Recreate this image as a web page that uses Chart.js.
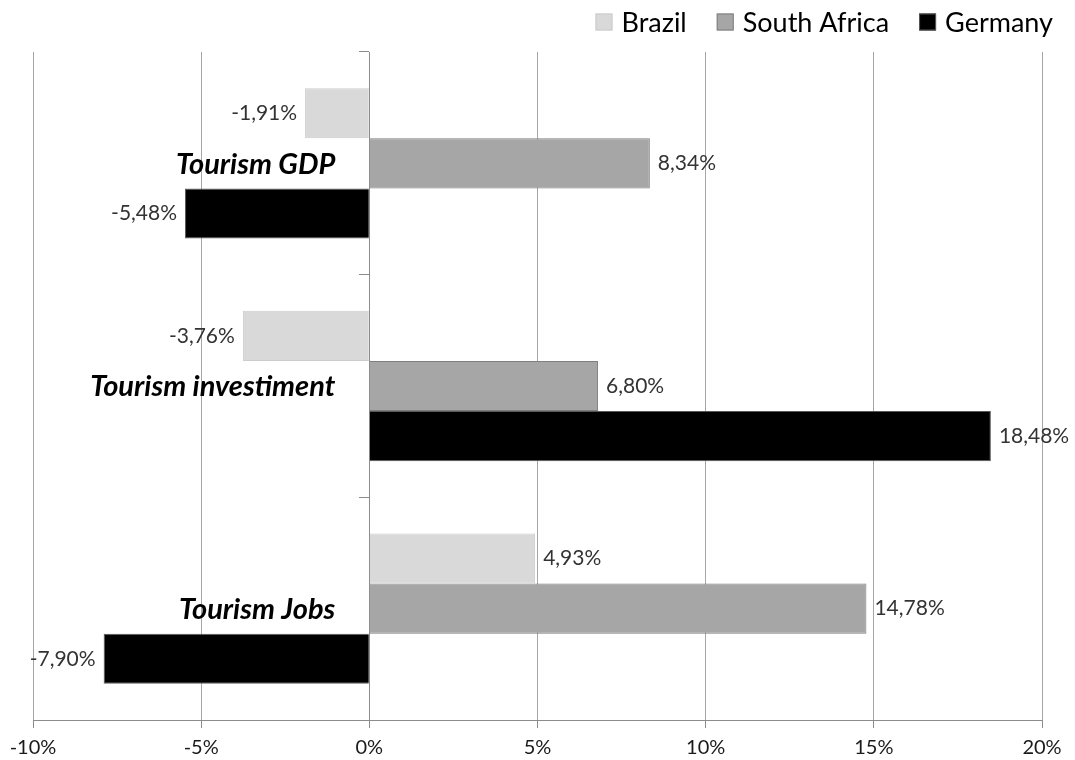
<!DOCTYPE html>
<html>
<head>
<meta charset="utf-8">
<script src="https://cdn.jsdelivr.net/npm/chart.js@4.4.0/dist/chart.umd.min.js"></script>
<style>
    html, body { margin: 0; padding: 0; background: #fff; }
    #wrap { width: 1075px; height: 760px; }
</style>
</head>
<body>
<div id="wrap"><canvas id="tourismChart"></canvas></div>
<script>
const categories = ['Tourism GDP', 'Tourism investiment', 'Tourism Jobs'];
const brazil = [-1.91, -3.76, 4.93];
const southAfrica = [8.34, 6.80, 14.78];
const germany = [-5.48, 18.48, -7.90];
const xTicks = [-10, -5, 0, 5, 10, 15, 20];

const FONT = 'Lato, "Open Sans", sans-serif';
const AXIS_GRAY = '#8c8c8c';

function pct(v){
    return v.toFixed(2).replace('.', ',') + '%';
}

// value labels at the end of each bar
const barLabels = {
    id: 'barLabels',
    afterDatasetsDraw(chart){
        const ctx = chart.ctx;
        ctx.save();
        ctx.font = '21px ' + FONT;
        ctx.fillStyle = '#333';
        ctx.textBaseline = 'middle';
        chart.data.datasets.forEach(function(ds, di){
            const meta = chart.getDatasetMeta(di);
            meta.data.forEach(function(bar, i){
                const v = ds.data[i];
                if (v >= 0) {
                    ctx.textAlign = 'left';
                    ctx.fillText(pct(v), bar.x + 8, bar.y);
                } else {
                    ctx.textAlign = 'right';
                    ctx.fillText(pct(v), bar.x - 8, bar.y);
                }
            });
        });
        ctx.restore();
    }
};

// category names beside the zero line
const categoryNames = {
    id: 'categoryNames',
    afterDatasetsDraw(chart){
        const ctx = chart.ctx;
        const xs = chart.scales.x, ys = chart.scales.y;
        ctx.save();
        ctx.font = 'italic bold 29px ' + FONT;
        ctx.fillStyle = '#000';
        ctx.textAlign = 'right';
        ctx.textBaseline = 'middle';
        chart.data.labels.forEach(function(lab, i){
            ctx.fillText(lab, xs.getPixelForValue(0) - 34, ys.getPixelForValue(i) + 1);
        });
        ctx.restore();
    }
};

// legend, right aligned at the top
const topLegend = {
    id: 'topLegend',
    afterDraw(chart){
        const ctx = chart.ctx;
        const box = 17, gap = 9, spacing = 30;
        let x = 1053;
        const y = 22;
        ctx.save();
        ctx.font = '27px ' + FONT;
        ctx.textBaseline = 'middle';
        ctx.textAlign = 'left';
        const items = chart.data.datasets.slice().reverse();
        items.forEach(function(ds){
            const w = ctx.measureText(ds.label).width;
            x -= w;
            ctx.fillStyle = '#000';
            ctx.fillText(ds.label, x, y + 1);
            x -= gap + box;
            ctx.fillStyle = ds.backgroundColor;
            ctx.fillRect(x, y - box / 2, box, box);
            ctx.strokeStyle = ds.borderColor;
            ctx.lineWidth = 1;
            ctx.strokeRect(x + 0.5, y - box / 2 + 0.5, box - 1, box - 1);
            x -= spacing;
        });
        ctx.restore();
    }
};

new Chart(document.getElementById('tourismChart'), {
    type: 'bar',
    data: {
        labels: categories,
        datasets: [
            { label: 'Brazil', data: brazil, backgroundColor: '#d9d9d9', borderColor: '#cccccc', borderWidth: 1 },
            { label: 'South Africa', data: southAfrica, backgroundColor: '#a6a6a6', borderColor: '#7f7f7f', borderWidth: 1 },
            { label: 'Germany', data: germany, backgroundColor: '#000000', borderColor: '#595959', borderWidth: 1 }
        ]
    },
    plugins: [barLabels, categoryNames, topLegend],
    options: {
        indexAxis: 'y',
        responsive: true,
        maintainAspectRatio: false,
        animation: false,
        categoryPercentage: 0.675,
        barPercentage: 1,
        layout: {
            padding: { left: 33, right: 33, top: 52, bottom: -8 }
        },
        plugins: {
            tooltip: { enabled: false },
            legend: { display: false }
        },
        scales: {
            x: {
                min: -10,
                max: 20,
                afterBuildTicks(axis){
                    axis.ticks = xTicks.map(v => ({ value: v }));
                },
                ticks: {
                    font: { family: FONT, size: 20 },
                    color: '#1a1a1a',
                    padding: 8,
                    callback: v => v + '%'
                },
                grid: { color: '#a6a6a6', tickLength: 8, tickColor: AXIS_GRAY },
                border: { color: AXIS_GRAY }
            },
            y: {
                position: { x: 0 },
                ticks: { display: false },
                grid: { drawOnChartArea: false, tickLength: 10, color: AXIS_GRAY },
                border: { color: AXIS_GRAY }
            }
        }
    }
});
</script>
</body>
</html>
